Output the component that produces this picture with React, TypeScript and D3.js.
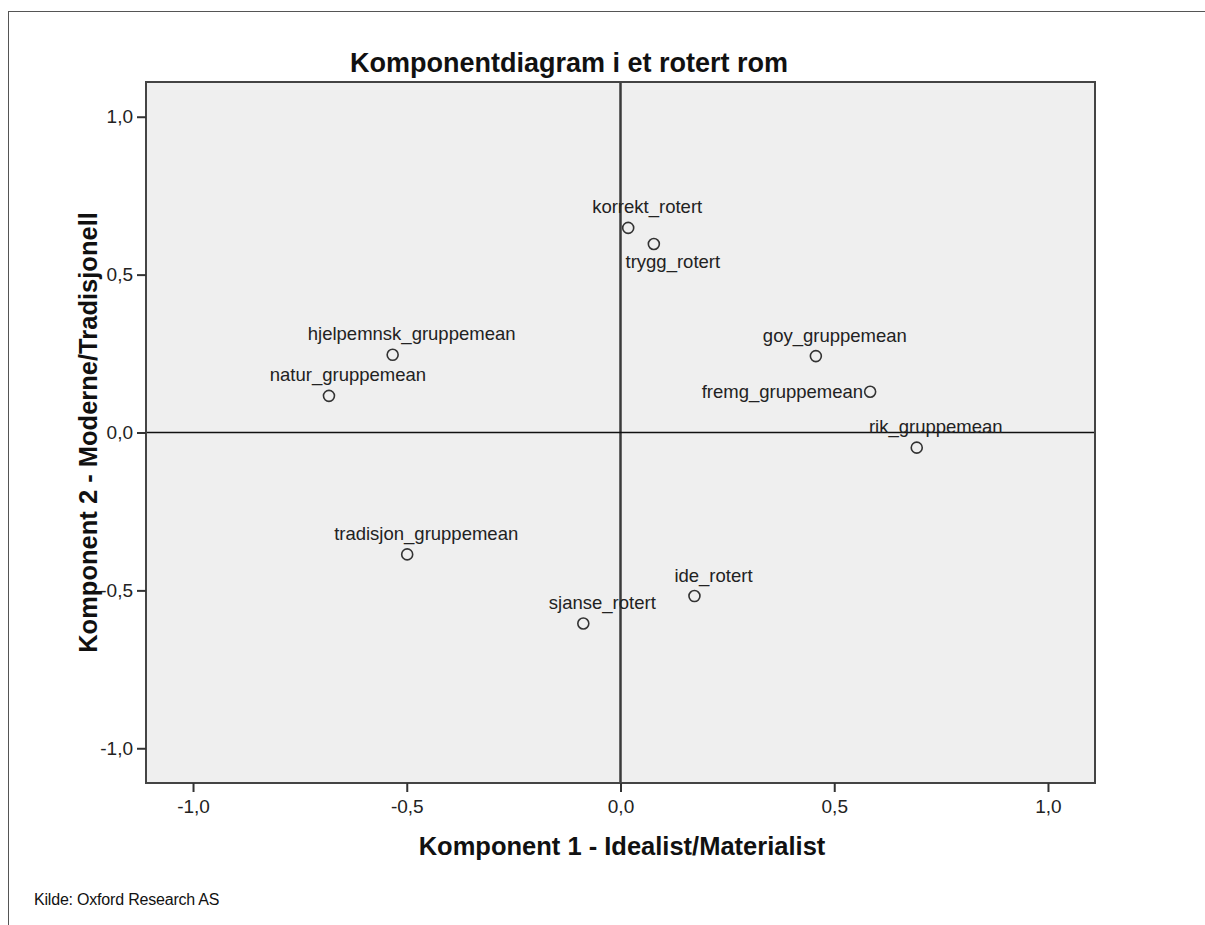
import { useEffect, useRef } from "react";
import * as d3 from "d3";

// Component loadings
const labels = [
  "korrekt_rotert",
  "trygg_rotert",
  "goy_gruppemean",
  "fremg_gruppemean",
  "rik_gruppemean",
  "hjelpemnsk_gruppemean",
  "natur_gruppemean",
  "tradisjon_gruppemean",
  "sjanse_rotert",
  "ide_rotert",
];
const comp1 = [0.018, 0.078, 0.457, 0.584, 0.693, -0.533, -0.682, -0.499, -0.087, 0.173];
const comp2 = [0.648, 0.597, 0.242, 0.129, -0.048, 0.246, 0.116, -0.386, -0.605, -0.518];
// where SPSS put each label relative to its marker
const labelSide = ["above", "below", "above", "left", "above", "above", "above", "above", "above", "above"];

const tickValues = [-1, -0.5, 0, 0.5, 1];
const axisDomain = [-1.11, 1.11];

const W = 1205;
const H = 925;
const FONT = "'Liberation Sans', Arial, sans-serif";

export default function App() {
  const svgRef = useRef<SVGSVGElement>(null);

  useEffect(() => {
    if (!svgRef.current) return;
    const svg = d3.select(svgRef.current);
    svg.selectAll("*").remove();

    const plot = { left: 146, top: 82, right: 1095, bottom: 783 };
    const x = d3.scaleLinear().domain(axisDomain).range([plot.left, plot.right]);
    const y = d3.scaleLinear().domain(axisDomain).range([plot.bottom, plot.top]);
    const fmt = (v: number) => d3.format(".1f")(v).replace(".", ",").replace("−", "-");

    // outer frame
    svg.append("rect")
      .attr("x", 8.5).attr("y", 11.5)
      .attr("width", W + 20).attr("height", H + 20)
      .attr("fill", "white").attr("stroke", "#555").attr("stroke-width", 1);

    // title
    svg.append("text")
      .attr("x", 569).attr("y", 72)
      .attr("text-anchor", "middle")
      .attr("font-family", FONT).attr("font-size", 27)
      .attr("font-weight", "bold")
      .attr("fill", "#111")
      .text("Komponentdiagram i et rotert rom");

    // plot background
    svg.append("rect")
      .attr("x", plot.left).attr("y", plot.top)
      .attr("width", plot.right - plot.left).attr("height", plot.bottom - plot.top)
      .attr("fill", "#efefef");

    // zero lines
    svg.append("line")
      .attr("x1", x(0)).attr("x2", x(0))
      .attr("y1", plot.top).attr("y2", plot.bottom)
      .attr("stroke", "#3a3a3a").attr("stroke-width", 2.5);
    svg.append("line")
      .attr("x1", plot.left).attr("x2", plot.right)
      .attr("y1", y(0)).attr("y2", y(0))
      .attr("stroke", "#111").attr("stroke-width", 1.6);

    // plot border
    svg.append("rect")
      .attr("x", plot.left).attr("y", plot.top)
      .attr("width", plot.right - plot.left).attr("height", plot.bottom - plot.top)
      .attr("fill", "none").attr("stroke", "#444").attr("stroke-width", 2);

    // x axis
    svg.append("g")
      .attr("transform", `translate(0,${plot.bottom})`)
      .call(d3.axisBottom(x).tickValues(tickValues).tickSize(9).tickPadding(8).tickFormat((d) => fmt(d as number)))
      .call((g) => g.select(".domain").remove())
      .call((g) => g.selectAll(".tick line").attr("stroke", "#333").attr("stroke-width", 2))
      .call((g) => g.selectAll("text").attr("font-family", FONT).attr("font-size", 19).attr("fill", "#222"));

    // y axis
    svg.append("g")
      .attr("transform", `translate(${plot.left},0)`)
      .call(d3.axisLeft(y).tickValues(tickValues).tickSize(9).tickPadding(4).tickFormat((d) => fmt(d as number)))
      .call((g) => g.select(".domain").remove())
      .call((g) => g.selectAll(".tick line").attr("stroke", "#333").attr("stroke-width", 2))
      .call((g) => g.selectAll("text").attr("font-family", FONT).attr("font-size", 19).attr("fill", "#222"));

    // axis titles
    svg.append("text")
      .attr("x", 622).attr("y", 855)
      .attr("text-anchor", "middle")
      .attr("font-family", FONT).attr("font-size", 25.5).attr("font-weight", "bold")
      .attr("fill", "#111")
      .text("Komponent 1 - Idealist/Materialist");
    svg.append("text")
      .attr("transform", `translate(97,${(plot.top + plot.bottom) / 2}) rotate(-90)`)
      .attr("text-anchor", "middle")
      .attr("font-family", FONT).attr("font-size", 25.5).attr("font-weight", "bold")
      .attr("fill", "#111")
      .text("Komponent 2 - Moderne/Tradisjonell");

    // points
    const idx = d3.range(labels.length);
    svg.append("g")
      .selectAll("circle")
      .data(idx)
      .join("circle")
      .attr("cx", (i) => x(comp1[i]))
      .attr("cy", (i) => y(comp2[i]))
      .attr("r", 5.5)
      .attr("fill", "none")
      .attr("stroke", "#333")
      .attr("stroke-width", 1.6);

    svg.append("g")
      .selectAll("text")
      .data(idx)
      .join("text")
      .attr("x", (i) => x(comp1[i]) + (labelSide[i] === "left" ? -7 : 19))
      .attr("y", (i) => y(comp2[i]) + (labelSide[i] === "above" ? -14.5 : labelSide[i] === "below" ? 24 : 6))
      .attr("text-anchor", (i) => (labelSide[i] === "left" ? "end" : "middle"))
      .attr("font-family", FONT).attr("font-size", 18.5)
      .attr("fill", "#222")
      .text((i) => labels[i]);

    // source note
    svg.append("text")
      .attr("x", 34).attr("y", 905)
      .attr("font-family", "'Liberation Sans Narrow', 'Arial Narrow', 'Liberation Sans', sans-serif")
      .attr("font-size", 16)
      .attr("letter-spacing", -0.2)
      .attr("fill", "#111")
      .text("Kilde: Oxford Research AS");
  }, []);

  return (
    <svg
      ref={svgRef}
      width={W}
      height={H}
      style={{ position: "absolute", left: 0, top: 0, background: "white" }}
    />
  );
}
